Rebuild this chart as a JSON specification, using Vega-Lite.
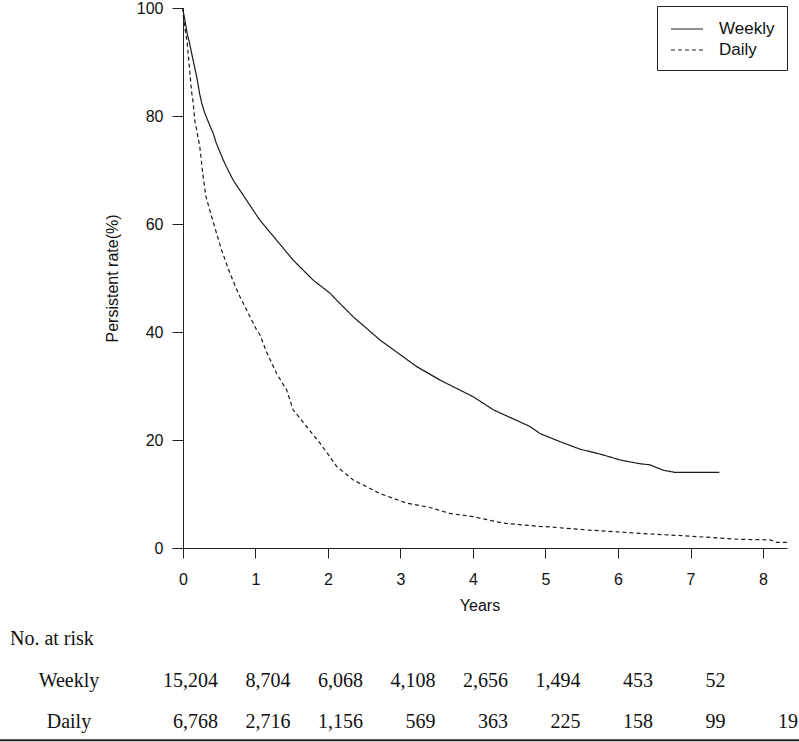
{
  "$schema": "https://vega.github.io/schema/vega-lite/v6.json",
  "width": 615,
  "height": 540,
  "autosize": {"type": "none"},
  "padding": {"left": 172, "top": 8, "right": 12, "bottom": 194},
  "background": "white",
  "config": {"view": {"stroke": null}, "font": "Liberation Sans"},
  "datasets": {
    "km": [
      {"group": "Weekly", "year": 0, "pct": 100},
      {"group": "Weekly", "year": 0.01, "pct": 99},
      {"group": "Weekly", "year": 0.028, "pct": 97.8},
      {"group": "Weekly", "year": 0.06, "pct": 95.2},
      {"group": "Weekly", "year": 0.087, "pct": 93.8},
      {"group": "Weekly", "year": 0.14, "pct": 90.4},
      {"group": "Weekly", "year": 0.19, "pct": 87.3},
      {"group": "Weekly", "year": 0.23, "pct": 84.2},
      {"group": "Weekly", "year": 0.258, "pct": 82.5},
      {"group": "Weekly", "year": 0.3, "pct": 80.6},
      {"group": "Weekly", "year": 0.37, "pct": 78.3},
      {"group": "Weekly", "year": 0.418, "pct": 76.8},
      {"group": "Weekly", "year": 0.46, "pct": 75.0},
      {"group": "Weekly", "year": 0.556, "pct": 71.9},
      {"group": "Weekly", "year": 0.6, "pct": 70.6},
      {"group": "Weekly", "year": 0.694, "pct": 68.1},
      {"group": "Weekly", "year": 0.879, "pct": 64.4},
      {"group": "Weekly", "year": 1.062, "pct": 60.7},
      {"group": "Weekly", "year": 1.292, "pct": 57.0},
      {"group": "Weekly", "year": 1.521, "pct": 53.3},
      {"group": "Weekly", "year": 1.797, "pct": 49.6},
      {"group": "Weekly", "year": 2.028, "pct": 47.2},
      {"group": "Weekly", "year": 2.12, "pct": 45.9},
      {"group": "Weekly", "year": 2.349, "pct": 42.8},
      {"group": "Weekly", "year": 2.72, "pct": 38.5},
      {"group": "Weekly", "year": 3.223, "pct": 33.6},
      {"group": "Weekly", "year": 3.545, "pct": 31.1},
      {"group": "Weekly", "year": 4.004, "pct": 28.0},
      {"group": "Weekly", "year": 4.28, "pct": 25.6},
      {"group": "Weekly", "year": 4.786, "pct": 22.5},
      {"group": "Weekly", "year": 4.924, "pct": 21.2},
      {"group": "Weekly", "year": 5.2, "pct": 19.7},
      {"group": "Weekly", "year": 5.476, "pct": 18.3},
      {"group": "Weekly", "year": 5.752, "pct": 17.4},
      {"group": "Weekly", "year": 6.028, "pct": 16.3},
      {"group": "Weekly", "year": 6.303, "pct": 15.6},
      {"group": "Weekly", "year": 6.441, "pct": 15.4},
      {"group": "Weekly", "year": 6.625, "pct": 14.4},
      {"group": "Weekly", "year": 6.786, "pct": 14.0},
      {"group": "Weekly", "year": 7.397, "pct": 14.0},
      {"group": "Daily", "year": 0, "pct": 100},
      {"group": "Daily", "year": 0.01, "pct": 98},
      {"group": "Daily", "year": 0.06, "pct": 93.5},
      {"group": "Daily", "year": 0.097, "pct": 88},
      {"group": "Daily", "year": 0.12, "pct": 84.5},
      {"group": "Daily", "year": 0.142, "pct": 82.5},
      {"group": "Daily", "year": 0.166, "pct": 79},
      {"group": "Daily", "year": 0.189, "pct": 77.5},
      {"group": "Daily", "year": 0.234, "pct": 74.2},
      {"group": "Daily", "year": 0.28, "pct": 68.7},
      {"group": "Daily", "year": 0.317, "pct": 65.1},
      {"group": "Daily", "year": 0.396, "pct": 61.4},
      {"group": "Daily", "year": 0.464, "pct": 58.3},
      {"group": "Daily", "year": 0.533, "pct": 55.2},
      {"group": "Daily", "year": 0.648, "pct": 50.9},
      {"group": "Daily", "year": 0.763, "pct": 47.2},
      {"group": "Daily", "year": 0.9, "pct": 43.5},
      {"group": "Daily", "year": 1.016, "pct": 40.4},
      {"group": "Daily", "year": 1.062, "pct": 39.5},
      {"group": "Daily", "year": 1.154, "pct": 36.3},
      {"group": "Daily", "year": 1.292, "pct": 32.3},
      {"group": "Daily", "year": 1.43, "pct": 29.3},
      {"group": "Daily", "year": 1.52, "pct": 25.6},
      {"group": "Daily", "year": 1.706, "pct": 22.5},
      {"group": "Daily", "year": 1.89, "pct": 19.4},
      {"group": "Daily", "year": 2.028, "pct": 16.9},
      {"group": "Daily", "year": 2.12, "pct": 15.1},
      {"group": "Daily", "year": 2.349, "pct": 12.6},
      {"group": "Daily", "year": 2.717, "pct": 10.1},
      {"group": "Daily", "year": 3.086, "pct": 8.3},
      {"group": "Daily", "year": 3.407, "pct": 7.5},
      {"group": "Daily", "year": 3.683, "pct": 6.4},
      {"group": "Daily", "year": 4.004, "pct": 5.8},
      {"group": "Daily", "year": 4.418, "pct": 4.6},
      {"group": "Daily", "year": 4.92, "pct": 4.0},
      {"group": "Daily", "year": 5.062, "pct": 3.9},
      {"group": "Daily", "year": 5.61, "pct": 3.3},
      {"group": "Daily", "year": 5.98, "pct": 3.0},
      {"group": "Daily", "year": 6.3, "pct": 2.7},
      {"group": "Daily", "year": 6.99, "pct": 2.2},
      {"group": "Daily", "year": 7.68, "pct": 1.6},
      {"group": "Daily", "year": 8.1, "pct": 1.5},
      {"group": "Daily", "year": 8.19, "pct": 1.05},
      {"group": "Daily", "year": 8.33, "pct": 1.05}
    ],
    "risk": [
      {"group": "Weekly", "row": 1, "year": 0, "n": "15,204"},
      {"group": "Weekly", "row": 1, "year": 1, "n": "8,704"},
      {"group": "Weekly", "row": 1, "year": 2, "n": "6,068"},
      {"group": "Weekly", "row": 1, "year": 3, "n": "4,108"},
      {"group": "Weekly", "row": 1, "year": 4, "n": "2,656"},
      {"group": "Weekly", "row": 1, "year": 5, "n": "1,494"},
      {"group": "Weekly", "row": 1, "year": 6, "n": "453"},
      {"group": "Weekly", "row": 1, "year": 7, "n": "52"},
      {"group": "Daily", "row": 2, "year": 0, "n": "6,768"},
      {"group": "Daily", "row": 2, "year": 1, "n": "2,716"},
      {"group": "Daily", "row": 2, "year": 2, "n": "1,156"},
      {"group": "Daily", "row": 2, "year": 3, "n": "569"},
      {"group": "Daily", "row": 2, "year": 4, "n": "363"},
      {"group": "Daily", "row": 2, "year": 5, "n": "225"},
      {"group": "Daily", "row": 2, "year": 6, "n": "158"},
      {"group": "Daily", "row": 2, "year": 7, "n": "99"},
      {"group": "Daily", "row": 2, "year": 8, "n": "19"}
    ],
    "rowlab": [
      {"label": "No. at risk", "row": 0, "kind": "header"},
      {"label": "Weekly", "row": 1, "kind": "group"},
      {"label": "Daily", "row": 2, "kind": "group"}
    ]
  },
  "resolve": {"scale": {"y": "independent"}, "axis": {"y": "independent"}},
  "layer": [
    {
      "data": {"name": "km"},
      "mark": {"type": "line", "color": "#1a1a1a", "strokeWidth": 1.2, "interpolate": "linear"},
      "encoding": {
        "x": {
          "field": "year", "type": "quantitative", "title": "Years",
          "scale": {"domain": [-0.15, 8.33], "nice": false, "zero": false},
          "axis": {
            "values": [0, 1, 2, 3, 4, 5, 6, 7, 8], "format": "d", "grid": false, "tickSize": 10,
            "labelPadding": 13, "titlePadding": 10, "labelFontSize": 16, "titleFontSize": 16,
            "titleFontWeight": "normal", "domainColor": "#222", "tickColor": "#222",
            "labelColor": "#111", "titleColor": "#111", "labelFont": "Liberation Sans",
            "titleFont": "Liberation Sans", "labelFlush": false
          }
        },
        "y": {
          "field": "pct", "type": "quantitative", "title": "Persistent rate(%)",
          "scale": {"domain": [0, 100], "nice": false},
          "axis": {
            "values": [0, 20, 40, 60, 80, 100], "format": "d", "grid": false, "offset": -11, "tickSize": 11,
            "labelPadding": 9, "titlePadding": 16, "labelFontSize": 16, "titleFontSize": 16,
            "titleFontWeight": "normal", "domainColor": "#222", "tickColor": "#222",
            "labelColor": "#111", "titleColor": "#111", "labelFont": "Liberation Sans",
            "titleFont": "Liberation Sans", "labelFlush": false
          }
        },
        "strokeDash": {
          "field": "group", "type": "nominal",
          "scale": {"domain": ["Weekly", "Daily"], "range": [[1, 0], [4, 3]]},
          "legend": {
            "orient": "none", "legendX": 485, "legendY": -2, "title": null,
            "strokeColor": "#222", "padding": 12, "symbolType": "M-1.6,0H1.6", "symbolSize": 400,
            "symbolOffset": 7, "symbolStrokeWidth": 1.2, "symbolStrokeColor": "#222", "symbolFillColor": "transparent",
            "labelFontSize": 17, "labelFont": "Liberation Sans", "labelOffset": 21, "rowPadding": 2, "labelColor": "#111"
          }
        }
      }
    },
    {
      "layer": [
        {
          "data": {"name": "risk"},
          "mark": {"type": "text", "align": "right", "baseline": "alphabetic", "dx": 35, "font": "Liberation Serif", "fontSize": 20, "color": "#111"},
          "encoding": {
            "x": {"field": "year", "type": "quantitative", "title": "Years"},
            "y": {"field": "row", "type": "quantitative", "scale": {"domain": [-15.35, -2.34], "reverse": true, "nice": false, "zero": false}, "axis": null},
            "text": {"field": "n"}
          }
        },
        {
          "data": {"name": "rowlab"},
          "transform": [{"filter": "datum.kind === 'header'"}],
          "mark": {"type": "text", "align": "left", "baseline": "alphabetic", "font": "Liberation Serif", "fontSize": 20, "color": "#111"},
          "encoding": {
            "x": {"datum": -2.384, "type": "quantitative", "title": "Years"},
            "y": {"field": "row", "type": "quantitative", "axis": null},
            "text": {"field": "label"}
          }
        },
        {
          "data": {"name": "rowlab"},
          "transform": [{"filter": "datum.kind === 'group'"}],
          "mark": {"type": "text", "align": "center", "baseline": "alphabetic", "font": "Liberation Serif", "fontSize": 20, "color": "#111"},
          "encoding": {
            "x": {"datum": -1.571, "type": "quantitative", "title": "Years"},
            "y": {"field": "row", "type": "quantitative", "axis": null},
            "text": {"field": "label"}
          }
        },
        {
          "data": {"values": [{"edge": "bottom"}]},
          "mark": {"type": "rule", "color": "#222", "strokeWidth": 2},
          "encoding": {
            "x": {"datum": -2.53, "type": "quantitative", "title": "Years"},
            "x2": {"datum": 8.5},
            "y": {"datum": 2.29, "type": "quantitative", "axis": null}
          }
        }
      ]
    }
  ]
}
